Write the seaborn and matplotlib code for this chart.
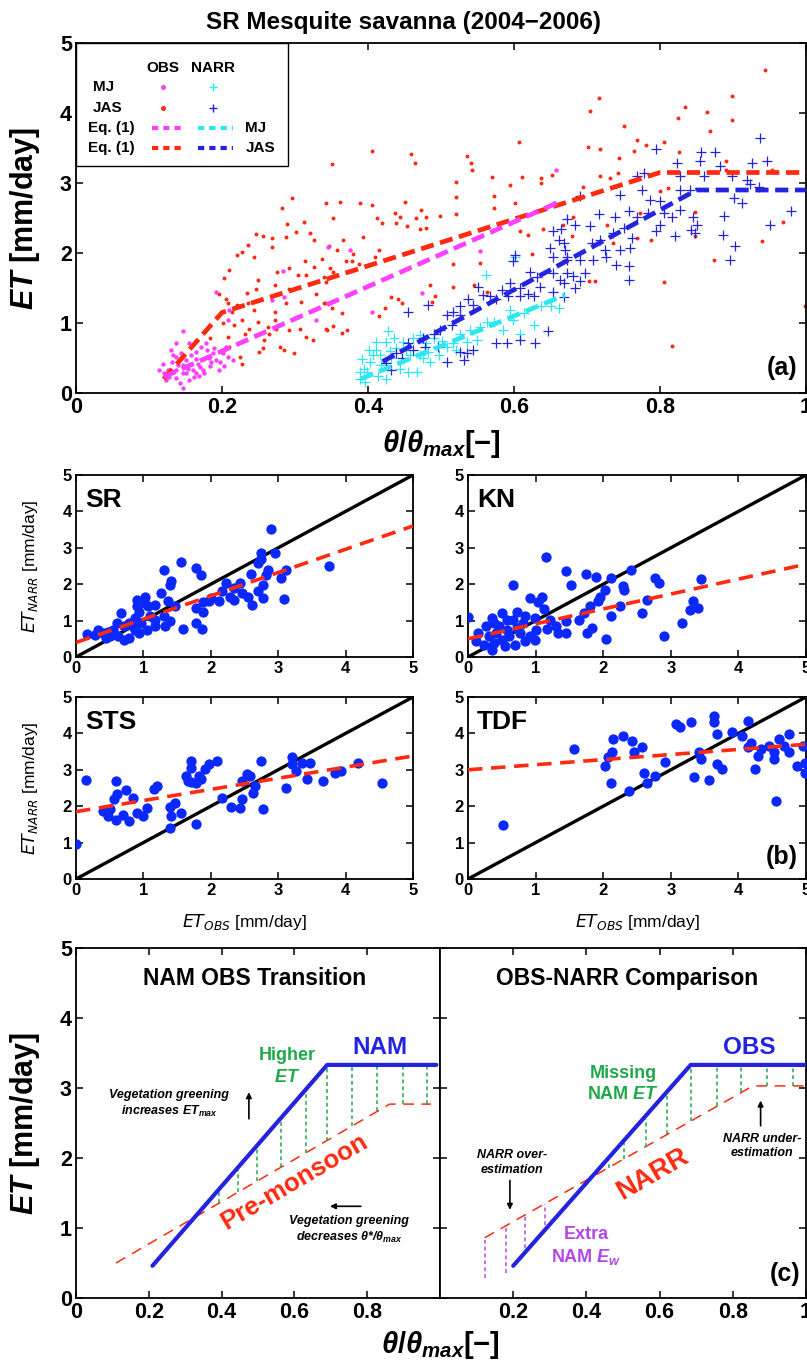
import matplotlib
matplotlib.use("Agg")
import matplotlib.pyplot as plt
import seaborn as sns
from matplotlib.patches import Rectangle

# ---------------- panel (a): SR mesquite savanna ----------------
obs_mj_x = [0.146, 0.130, 0.137, 0.119, 0.121, 0.128, 0.137, 0.146, 0.151, 0.158, 0.164, 0.151,
            0.160, 0.167, 0.174, 0.180, 0.187, 0.192, 0.201, 0.208, 0.155, 0.142, 0.137, 0.162,
            0.174, 0.183, 0.196, 0.203, 0.215, 0.126, 0.114, 0.132, 0.144, 0.153, 0.164, 0.176,
            0.185, 0.171, 0.178, 0.189, 0.146, 0.158, 0.123, 0.164, 0.205, 0.155, 0.137, 0.146,
            0.208, 0.210, 0.192, 0.285, 0.269, 0.329, 0.283, 0.657, 0.655, 0.376, 0.345, 0.405,
            0.474, 0.554, 0.170, 0.182, 0.140, 0.133, 0.168, 0.197]
obs_mj_y = [0.89, 0.61, 0.52, 0.42, 0.28, 0.23, 0.33, 0.40, 0.47, 0.54, 0.59, 0.28,
            0.33, 0.42, 0.49, 0.61, 0.57, 0.47, 0.57, 0.52, 0.19, 0.14, 0.21, 0.23,
            0.33, 0.38, 0.33, 0.38, 0.47, 0.33, 0.33, 0.45, 0.57, 0.35, 0.28, 0.28,
            0.45, 0.66, 0.71, 0.64, 0.28, 0.42, 0.19, 0.49, 0.66, 0.71, 0.71, 0.07,
            1.04, 1.19, 1.45, 1.37, 1.33, 1.04, 1.75, 3.18, 2.72, 2.04, 2.09, 1.16,
            1.43, 2.03, 0.37, 0.50, 0.40, 0.55, 0.24, 0.44]

obs_jas_x = [0.296, 0.282, 0.343, 0.289, 0.313, 0.301, 0.247, 0.256, 0.269, 0.320, 0.235, 0.269,
             0.221, 0.228, 0.244, 0.287, 0.326, 0.209, 0.276, 0.314, 0.292, 0.326, 0.203, 0.304,
             0.315, 0.249, 0.247, 0.272, 0.337, 0.196, 0.206, 0.234, 0.292, 0.329, 0.208, 0.214,
             0.221, 0.235, 0.244, 0.272, 0.287, 0.308, 0.340, 0.201, 0.217, 0.228, 0.237, 0.249,
             0.263, 0.273, 0.292, 0.307, 0.183, 0.208, 0.231, 0.247, 0.258, 0.274, 0.315, 0.324,
             0.210, 0.224, 0.228, 0.250, 0.256, 0.279, 0.285, 0.298, 0.265, 0.342,
             0.406, 0.350, 0.459, 0.464, 0.536, 0.541, 0.542, 0.607, 0.520, 0.570, 0.611, 0.637,
             0.637, 0.652, 0.594, 0.572, 0.521, 0.361, 0.389, 0.406, 0.451, 0.601, 0.572, 0.521,
             0.437, 0.444, 0.412, 0.419, 0.466, 0.480, 0.473, 0.498, 0.439, 0.454, 0.471, 0.479,
             0.352, 0.608, 0.619, 0.640, 0.366, 0.393, 0.346, 0.358, 0.380, 0.409, 0.415, 0.348,
             0.370, 0.378, 0.387, 0.352, 0.517, 0.553, 0.624, 0.343, 0.340, 0.485, 0.492, 0.517,
             0.545, 0.341, 0.364, 0.351, 0.432, 0.446, 0.441, 0.415, 0.423, 0.352, 0.344, 0.364,
             0.371, 0.487, 0.563,
             0.944, 0.717, 0.704, 0.898, 0.898, 0.834, 0.824, 0.865, 0.868, 0.751, 0.702, 0.718,
             0.769, 0.781, 0.805, 0.765, 0.744, 0.826, 0.718, 0.731, 0.743, 0.695, 0.891, 0.890,
             0.954, 0.688, 0.681, 0.679, 0.727, 0.735, 0.768, 0.667, 0.787, 0.848, 0.848, 0.836,
             0.968, 0.940, 0.874, 0.703, 0.711, 0.805, 0.816, 0.999, 0.773, 0.800, 0.811]
obs_jas_y = [2.78, 2.64, 2.71, 2.42, 2.45, 2.30, 2.27, 2.24, 2.22, 2.28, 2.11, 2.09,
             1.97, 2.02, 1.95, 2.23, 2.19, 1.76, 1.73, 1.89, 1.78, 1.80, 1.65, 1.68,
             1.68, 1.61, 1.49, 1.54, 1.92, 1.41, 1.35, 1.43, 1.49, 1.41, 1.28, 1.16,
             1.26, 1.28, 1.18, 1.16, 1.28, 1.30, 1.29, 1.00, 0.97, 1.05, 0.92, 1.02,
             0.95, 1.05, 0.90, 0.92, 0.78, 0.80, 0.85, 0.83, 0.76, 0.92, 0.80, 0.76,
             0.66, 0.52, 0.42, 0.59, 0.64, 0.66, 0.61, 0.57, 0.85, 0.92,
             3.46, 3.27, 3.41, 3.29, 3.38, 3.28, 3.18, 3.58, 3.01, 3.08, 3.09, 3.07,
             3.00, 3.12, 2.97, 2.81, 2.80, 2.73, 2.71, 2.69, 2.73, 2.72, 2.65, 2.56,
             2.57, 2.52, 2.50, 2.43, 2.50, 2.52, 2.61, 2.53, 2.43, 2.38, 2.34, 2.36,
             2.50, 2.32, 2.26, 2.34, 2.19, 2.23, 2.10, 2.05, 1.99, 1.94, 2.05, 1.78,
             1.88, 1.88, 1.84, 1.73, 1.85, 1.86, 1.99, 1.59, 1.66, 1.54, 1.39, 1.52,
             1.55, 1.29, 1.15, 1.21, 1.37, 1.29, 1.35, 1.10, 1.21, 0.96, 0.90, 0.86,
             0.90, 1.30, 1.45,
             4.62, 4.22, 4.03, 4.25, 3.90, 4.09, 3.93, 4.01, 3.75, 3.82, 3.51, 3.49,
             3.61, 3.55, 3.58, 3.46, 3.36, 3.44, 3.10, 3.07, 3.14, 2.95, 3.31, 3.19,
             3.19, 2.80, 2.51, 2.24, 2.40, 2.14, 2.21, 2.40, 2.19, 2.59, 2.24, 2.83,
             2.45, 2.17, 1.90, 1.60, 1.60, 1.58, 0.67, 1.24, 2.57, 2.88, 2.93]

narr_mj_x = [0.561, 0.601, 0.428, 0.398, 0.389, 0.394, 0.407, 0.411, 0.425, 0.435, 0.448, 0.462,
             0.471, 0.480, 0.491, 0.501, 0.508, 0.517, 0.526, 0.540, 0.416, 0.432, 0.444, 0.455,
             0.467, 0.471, 0.485, 0.403, 0.389, 0.396, 0.414, 0.425, 0.439, 0.411, 0.554, 0.563,
             0.572, 0.598, 0.595, 0.614, 0.637, 0.650, 0.661, 0.535, 0.549, 0.457, 0.482, 0.627,
             0.608, 0.402, 0.418, 0.392, 0.430, 0.452, 0.476, 0.497, 0.520, 0.585]
narr_mj_y = [1.68, 1.95, 0.88, 0.30, 0.20, 0.35, 0.54, 0.73, 0.73, 0.78, 0.73, 0.78,
             0.83, 0.71, 0.78, 0.75, 0.66, 0.71, 0.85, 0.90, 0.54, 0.50, 0.35, 0.30,
             0.30, 0.54, 0.45, 0.45, 0.30, 0.16, 0.25, 0.20, 0.64, 0.61, 0.95, 1.02,
             1.02, 1.05, 1.19, 1.14, 1.24, 1.24, 1.21, 0.73, 0.76, 0.54, 0.59, 0.97,
             0.85, 0.62, 0.40, 0.48, 0.60, 0.62, 0.50, 0.55, 0.62, 0.90]

narr_jas_x = [0.654, 0.662, 0.665, 0.649, 0.670, 0.654, 0.672, 0.601, 0.599, 0.622, 0.631, 0.654,
              0.663, 0.594, 0.583, 0.608, 0.619, 0.635, 0.654, 0.668, 0.551, 0.558, 0.567, 0.576,
              0.592, 0.537, 0.544, 0.526, 0.517, 0.508, 0.526, 0.482, 0.455, 0.515, 0.499, 0.490,
              0.476, 0.576, 0.590, 0.608, 0.629, 0.647, 0.455, 0.462, 0.478, 0.496, 0.508, 0.526,
              0.535, 0.544, 0.439, 0.425, 0.432, 0.446, 0.531, 0.608, 0.627,
              0.937, 0.875, 0.856, 0.795, 0.823, 0.855, 0.882, 0.926, 0.946, 0.778, 0.769, 0.827,
              0.860, 0.898, 0.919, 0.923, 0.935, 0.745, 0.775, 0.786, 0.800, 0.827, 0.841, 0.901,
              0.912, 0.980, 0.951, 0.887, 0.690, 0.717, 0.738, 0.757, 0.768, 0.784, 0.805, 0.816,
              0.827, 0.845, 0.850, 0.843, 0.848, 0.795, 0.821, 0.800, 0.886, 0.903, 0.896, 0.672,
              0.684, 0.704, 0.718, 0.736, 0.750, 0.761, 0.668, 0.707, 0.724, 0.745, 0.759, 0.672,
              0.690, 0.708, 0.726, 0.740, 0.757, 0.672, 0.681, 0.690, 0.668, 0.684, 0.757, 0.697]
narr_jas_y = [2.31, 2.19, 2.35, 2.07, 2.04, 1.95, 1.90, 1.97, 1.88, 1.73, 1.66, 1.71,
              1.61, 1.57, 1.47, 1.50, 1.42, 1.52, 1.45, 1.37, 1.52, 1.40, 1.38, 1.35,
              1.38, 1.34, 1.26, 1.24, 1.16, 1.11, 1.11, 1.26, 1.16, 0.97, 0.90, 0.85,
              0.78, 0.71, 0.71, 0.76, 0.71, 0.89, 0.71, 0.61, 0.66, 0.66, 0.45, 0.59,
              0.57, 0.61, 0.57, 0.43, 0.33, 0.50, 0.47, 1.38, 1.38,
              3.65, 3.45, 3.44, 3.49, 3.29, 3.31, 3.24, 3.28, 3.31, 3.14, 3.10, 3.10,
              3.10, 3.10, 3.05, 2.98, 2.95, 2.83, 2.90, 2.76, 2.74, 2.90, 2.90, 2.79,
              2.71, 2.60, 2.40, 2.53, 2.81, 2.56, 2.52, 2.60, 2.52, 2.57, 2.57, 2.52,
              2.62, 2.52, 2.40, 2.33, 2.29, 2.31, 2.24, 2.40, 2.26, 2.10, 1.90, 2.48,
              2.40, 2.38, 2.19, 2.29, 2.36, 2.21, 2.14, 2.14, 2.05, 2.05, 2.07, 1.95,
              1.90, 1.90, 1.95, 1.83, 1.82, 1.71, 1.67, 1.60, 1.57, 1.50, 1.61, 1.71]

# Eq. (1) fits
fit_obs_mj_x = [0.12, 0.66]
fit_obs_mj_y = [0.23, 2.72]
fit_obs_jas_x = [0.12, 0.20, 0.80, 1.00]
fit_obs_jas_y = [0.20, 1.15, 3.15, 3.15]
fit_narr_mj_x = [0.39, 0.67]
fit_narr_mj_y = [0.20, 1.40]
fit_narr_jas_x = [0.42, 0.85, 1.00]
fit_narr_jas_y = [0.45, 2.90, 2.90]

# ---------------- panel (b): NARR vs OBS ----------------
sr_obs = [2.89, 2.95, 2.74, 2.74, 3.76, 3.08, 3.04, 3.12, 1.56, 1.78, 1.86, 1.30, 1.40, 1.41, 1.26,
          1.36, 1.40, 1.59, 1.78, 1.87, 1.78, 1.88, 2.01, 2.12, 2.23, 2.35, 2.43, 2.47, 2.55, 2.61,
          2.70, 2.78, 2.78, 2.82, 2.85, 2.70, 2.60, 2.16, 2.28, 2.35, 1.97, 1.88, 1.01, 0.97, 0.90,
          1.07, 1.17, 1.10, 0.94, 0.87, 0.78, 0.71, 0.67, 0.61, 0.55, 0.48, 0.40, 0.28, 0.17, 0.32,
          0.63, 0.78, 0.94, 1.05, 1.17, 0.87, 0.71, 0.51, 0.44, 0.84, 0.97, 1.17, 1.30, 1.32, 1.47,
          0.90, 1.03]
sr_narr = [3.51, 2.87, 2.85, 2.69, 2.49, 1.59, 2.17, 2.38, 2.60, 2.44, 2.26, 2.38, 1.98, 2.10, 1.76,
           1.53, 0.98, 0.77, 0.93, 0.77, 1.34, 1.50, 1.62, 1.53, 2.03, 1.89, 2.03, 1.76, 1.66, 1.44,
           1.80, 1.62, 1.98, 2.26, 2.40, 2.58, 2.29, 1.80, 1.66, 1.57, 1.53, 1.25, 1.57, 1.48, 1.39,
           1.39, 1.44, 1.12, 1.25, 1.07, 0.93, 0.84, 1.21, 0.93, 0.75, 0.70, 0.66, 0.61, 0.64, 0.75,
           0.57, 0.52, 0.66, 0.75, 0.84, 0.75, 0.48, 0.57, 0.52, 0.84, 0.93, 1.02, 1.12, 0.84, 1.39,
           1.57, 1.66]

kn_obs = [0.00, 1.15, 0.67, 1.45, 1.53, 1.74, 1.90, 2.41, 2.12, 2.29, 2.31, 2.76, 2.82, 2.65, 2.58,
          2.90, 3.17, 3.29, 3.33, 3.40, 3.44, 2.03, 1.95, 1.92, 1.80, 1.72, 1.76, 1.84, 2.04, 2.12,
          2.25, 1.64, 1.45, 1.45, 1.33, 1.21, 1.13, 1.04, 1.09, 0.92, 1.17, 1.30, 0.99, 0.84, 0.73,
          0.66, 0.50, 0.38, 0.27, 0.15, 0.12, 0.23, 0.38, 0.50, 0.61, 0.77, 0.92, 0.99, 0.84, 0.69,
          0.54, 0.35, 0.73, 0.58, 0.42, 0.31, 1.01, 0.81, 0.58, 0.35, 0.46]
kn_narr = [1.10, 2.76, 1.97, 2.37, 1.97, 2.29, 2.21, 2.40, 2.17, 1.96, 1.85, 2.17, 2.03, 1.57, 1.22,
           0.59, 0.93, 1.30, 1.53, 1.34, 2.14, 1.83, 1.66, 1.53, 1.39, 1.21, 0.66, 0.80, 0.49, 1.12,
           1.39, 1.02, 0.98, 0.66, 0.66, 1.02, 1.32, 1.50, 1.66, 1.62, 0.77, 0.84, 1.07, 1.12, 1.25,
           1.02, 1.22, 0.93, 0.84, 0.66, 0.43, 0.34, 0.38, 0.48, 0.57, 0.66, 0.57, 0.48, 0.43, 0.34,
           0.29, 0.20, 0.80, 0.75, 0.66, 0.57, 0.75, 0.93, 1.02, 1.07, 0.84]

sts_obs = [0.15, 0.59, 0.57, 0.61, 0.74, 0.84, 0.51, 0.40, 0.48, 0.59, 0.69, 0.78, 0.90, 0.99, 1.05,
           1.15, 1.20, 1.40, 1.47, 1.41, 1.56, 1.40, 1.78, 1.70, 1.71, 1.63, 1.66, 1.78, 1.86, 1.82,
           1.71, 1.97, 2.09, 1.92, 2.16, 2.30, 2.43, 2.47, 2.53, 2.47, 2.58, 2.66, 2.74, 2.78, 2.62,
           3.12, 3.20, 3.21, 3.27, 3.35, 3.47, 3.43, 3.66, 3.85, 3.93, 4.19, 4.54, 0.00]
sts_narr = [2.72, 2.68, 2.19, 2.33, 2.45, 2.23, 1.93, 1.86, 1.73, 1.63, 1.77, 1.59, 1.82, 1.73, 1.96,
            2.46, 2.56, 1.98, 2.09, 1.73, 1.82, 1.40, 1.52, 3.25, 3.06, 2.83, 2.69, 2.65, 2.74, 2.83,
            2.67, 3.16, 3.25, 3.02, 2.23, 1.98, 1.96, 2.19, 2.88, 2.69, 2.83, 2.56, 3.25, 1.91, 2.37,
            2.51, 3.16, 3.34, 2.97, 3.20, 3.20, 2.74, 2.69, 2.92, 2.97, 3.20, 2.65, 0.96]

tdf_obs = [0.52, 1.57, 2.02, 2.07, 2.13, 2.15, 2.11, 2.30, 2.42, 2.38, 2.45, 2.57, 2.61, 2.65, 2.76,
           2.91, 3.07, 3.14, 3.30, 3.34, 3.45, 3.41, 3.57, 3.64, 3.64, 3.68, 3.68, 3.76, 3.90, 4.06,
           4.14, 4.18, 4.25, 4.29, 4.33, 4.45, 4.52, 4.56, 4.60, 4.68, 4.75, 4.75, 4.87, 4.95, 4.98,
           4.98, 4.52, 4.14]
tdf_narr = [1.47, 3.57, 3.11, 3.34, 3.48, 3.85, 2.65, 3.92, 3.80, 2.42, 3.48, 3.62, 2.92, 2.65, 2.83,
            3.22, 4.26, 4.17, 4.31, 2.79, 3.29, 3.48, 2.72, 4.49, 4.31, 3.99, 3.15, 3.02, 4.04, 3.94,
            4.35, 3.75, 3.02, 3.39, 3.57, 3.66, 3.29, 2.14, 3.84, 3.66, 3.99, 3.48, 3.11, 3.66, 3.20,
            2.92, 3.48, 3.62]

one_to_one = [0, 5]
# dashed regression lines: values at ET_OBS = 0 and 5
reg_x = [0, 5]
sr_reg = [0.40, 3.60]
kn_reg = [0.50, 2.55]
sts_reg = [1.85, 3.38]
tdf_reg = [3.00, 3.70]

# ---------------- panel (c): conceptual sketch ----------------
nam_x = [0.21, 0.69, 0.99]
nam_y = [0.46, 3.33, 3.33]
pre_x = [0.11, 0.862, 0.975]
pre_y = [0.50, 2.77, 2.77]
green_l_x = [0.394, 0.445, 0.496, 0.563, 0.631, 0.690, 0.758, 0.827, 0.897, 0.963]
green_l_lo = [1.36, 1.51, 1.67, 1.87, 2.07, 2.25, 2.46, 2.67, 2.77, 2.77]
green_l_hi = [1.52, 1.83, 2.14, 2.55, 2.97, 3.33, 3.33, 3.33, 3.33, 3.33]

obs_x = [0.20, 0.685, 1.0]
obs_y = [0.46, 3.33, 3.33]
narr_x = [0.122, 0.855, 1.0]
narr_y = [0.86, 3.03, 3.03]
green_r_x = [0.461, 0.504, 0.562, 0.621, 0.685, 0.756, 0.823, 0.894, 0.965]
green_r_lo = [1.86, 1.99, 2.16, 2.34, 2.53, 2.74, 2.94, 3.03, 3.03]
green_r_hi = [1.96, 2.22, 2.56, 2.92, 3.33, 3.33, 3.33, 3.33, 3.33]
purple_x = [0.122, 0.179, 0.231, 0.288]
purple_lo = [0.28, 0.36, 0.62, 0.95]
purple_hi = [0.86, 1.03, 1.18, 1.35]

RED = "#ff2a10"
MAGENTA = "#ff40ff"
CYAN = "#2ee6f0"
BLUE = "#2323e0"
DOT_BLUE = "#0a28ff"
GREEN = "#1fa84a"
PURPLE = "#b347e6"
B = {"fontweight": "bold"}

sns.set_theme(style="ticks")
plt.rcParams["font.family"] = ["Liberation Sans", "DejaVu Sans"]
plt.rcParams["mathtext.fontset"] = "custom"
plt.rcParams["mathtext.rm"] = "Liberation Sans:bold"
plt.rcParams["mathtext.it"] = "Liberation Sans:italic:bold"
plt.rcParams["mathtext.bf"] = "Liberation Sans:bold"
plt.rcParams["axes.linewidth"] = 1.3
plt.rcParams["axes.edgecolor"] = "black"
plt.rcParams["text.color"] = "black"
plt.rcParams["axes.labelcolor"] = "black"

W, H = 807, 1361
fig = plt.figure(figsize=(W / 100, H / 100), dpi=100)


def add_ax(x0, y0, x1, y1):
    return fig.add_axes([x0 / W, 1 - y1 / H, (x1 - x0) / W, (y1 - y0) / H])


def style(ax, size):
    ax.tick_params(direction="in", top=True, right=True, length=5, width=1.1,
                   labelsize=size, colors="black", pad=3)
    for lab in ax.get_xticklabels() + ax.get_yticklabels():
        lab.set_fontweight("bold")


# ---- (a)
ax = add_ax(76, 43, 806, 393)
sns.scatterplot(x=obs_jas_x, y=obs_jas_y, ax=ax, color=RED, s=8, linewidth=0, legend=False, zorder=2)
sns.scatterplot(x=obs_mj_x, y=obs_mj_y, ax=ax, color=MAGENTA, s=10, linewidth=0, legend=False, zorder=2)
sns.scatterplot(x=narr_mj_x, y=narr_mj_y, ax=ax, color=CYAN, marker="+", s=55, linewidth=0.9,
                legend=False, zorder=3)
sns.scatterplot(x=narr_jas_x, y=narr_jas_y, ax=ax, color=BLUE, marker="+", s=55, linewidth=0.9,
                legend=False, zorder=3)
dash = (0, (2.8, 1.4))
for fx, fy, col in [(fit_obs_jas_x, fit_obs_jas_y, RED), (fit_obs_mj_x, fit_obs_mj_y, MAGENTA),
                    (fit_narr_mj_x, fit_narr_mj_y, CYAN), (fit_narr_jas_x, fit_narr_jas_y, BLUE)]:
    sns.lineplot(x=fx, y=fy, ax=ax, sort=False, estimator=None, color=col, lw=3.4,
                 linestyle=dash, zorder=4)
ax.set_xlim(0, 1)
ax.set_ylim(0, 5)
ax.set_xticks([0, 0.2, 0.4, 0.6, 0.8, 1.0], ["0", "0.2", "0.4", "0.6", "0.8", "1"])
ax.set_yticks(range(6))
style(ax, 15.5)
ax.set_xlabel(r"$\theta/\theta_{max}$[−]", fontsize=21, **B)
ax.xaxis.set_label_coords(0.5, -0.10)
ax.set_ylabel(r"$ET$ [mm/day]", fontsize=22, **B)
ax.yaxis.set_label_coords(-0.047, 0.5)
ax.text(0.988, 0.071, "(a)", transform=ax.transAxes, ha="right", va="center", fontsize=18, **B)

# legend block drawn as a small table
tr = ax.transAxes
ax.add_patch(Rectangle((0, 0.649), 0.29, 0.351, transform=tr, facecolor="white",
                       edgecolor="black", lw=1.0, zorder=5))
col_obs, col_narr = 0.119, 0.188
rows = [0.874, 0.814, 0.757, 0.700]
ax.text(col_obs, 0.929, "OBS", transform=tr, ha="center", va="center", fontsize=11, zorder=6, **B)
ax.text(col_narr, 0.929, "NARR", transform=tr, ha="center", va="center", fontsize=11, zorder=6, **B)
for r, lab, lx in zip(rows, ["MJ", "JAS", "Eq. (1)", "Eq. (1)"], [0.023, 0.023, 0.016, 0.016]):
    ax.text(lx, r, lab, transform=tr, ha="left", va="center", fontsize=11, zorder=6, **B)
ax.plot([col_obs], [rows[0]], "o", ms=2.6, color=MAGENTA, transform=tr, zorder=6)
ax.plot([col_obs], [rows[1]], "o", ms=2.6, color=RED, transform=tr, zorder=6)
ax.plot([col_narr], [rows[0]], "+", ms=6, mew=1, color=CYAN, transform=tr, zorder=6)
ax.plot([col_narr], [rows[1]], "+", ms=6, mew=1, color=BLUE, transform=tr, zorder=6)
for r, c1, c2, lab in [(rows[2], MAGENTA, CYAN, "MJ"), (rows[3], RED, BLUE, "JAS")]:
    ax.plot([0.104, 0.149], [r, r], color=c1, lw=3, linestyle=(0, (1.5, 1.2)), transform=tr, zorder=6)
    ax.plot([0.167, 0.215], [r, r], color=c2, lw=3, linestyle=(0, (1.5, 1.2)), transform=tr, zorder=6)
    ax.text(0.232, r, lab, transform=tr, ha="left", va="center", fontsize=11, zorder=6, **B)

fig.text(0.5, 1 - 23 / H, "SR Mesquite savanna (2004−2006)", ha="center", va="center",
         fontsize=17.5, **B)

# ---- (b)
panels = [
    ((76, 475, 413, 657), "SR", sr_obs, sr_narr, sr_reg),
    ((468, 475, 806, 657), "KN", kn_obs, kn_narr, kn_reg),
    ((76, 697, 413, 879), "STS", sts_obs, sts_narr, sts_reg),
    ((468, 697, 806, 879), "TDF", tdf_obs, tdf_narr, tdf_reg),
]
for i, (box, name, xo, yn, reg) in enumerate(panels):
    axb = add_ax(*box)
    sns.lineplot(x=one_to_one, y=one_to_one, ax=axb, color="black", lw=2.4, zorder=2)
    sns.scatterplot(x=xo, y=yn, ax=axb, color=DOT_BLUE, s=55, linewidth=0, legend=False, zorder=3)
    sns.lineplot(x=reg_x, y=reg, ax=axb, color=RED, lw=2.6, linestyle=(0, (4, 2.4)), zorder=4)
    axb.set_xlim(0, 5)
    axb.set_ylim(0, 5)
    axb.set_xticks(range(6))
    axb.set_yticks(range(6))
    style(axb, 12)
    axb.text(0.027, 0.86, name, transform=axb.transAxes, ha="left", va="center",
             fontsize=19, **B)
    if i % 2 == 0:
        axb.set_ylabel(r"$ET_{NARR}$ [mm/day]", fontsize=12.5, fontweight="normal",
                       math_fontfamily="dejavusans")
        axb.yaxis.set_label_coords(-0.107, 0.5)
    else:
        axb.set_ylabel("")
    if i >= 2:
        axb.set_xlabel(r"$ET_{OBS}$ [mm/day]", fontsize=12.5, fontweight="normal",
                       math_fontfamily="dejavusans")
        axb.xaxis.set_label_coords(0.5, -0.18)
    else:
        axb.set_xlabel("")
    if name == "TDF":
        axb.text(0.976, 0.12, "(b)", transform=axb.transAxes, ha="right", va="center",
                 fontsize=18, **B)

# ---- (c)
axl = add_ax(76, 948, 440, 1298)
axr = add_ax(440, 948, 806, 1298)
for a in (axl, axr):
    a.set_xlim(0, 1)
    a.set_ylim(0, 5)
    a.set_yticks(range(6))

sns.lineplot(x=pre_x, y=pre_y, ax=axl, sort=False, estimator=None, color=RED, lw=1.1,
             linestyle=(0, (7, 5)), zorder=2)
axl.vlines(green_l_x, green_l_lo, green_l_hi, colors=GREEN, lw=1.1, linestyles=(0, (2.5, 2)), zorder=2)
sns.lineplot(x=nam_x, y=nam_y, ax=axl, sort=False, estimator=None, color=BLUE, lw=3, zorder=3)
axl.set_xticks([0, 0.2, 0.4, 0.6, 0.8], ["0", "0.2", "0.4", "0.6", "0.8"])
style(axl, 15.5)
axl.set_ylabel(r"$ET$ [mm/day]", fontsize=22, **B)
axl.yaxis.set_label_coords(-0.093, 0.5)
axl.set_xlabel("")

sns.lineplot(x=narr_x, y=narr_y, ax=axr, sort=False, estimator=None, color=RED, lw=1.1,
             linestyle=(0, (7, 5)), zorder=2)
axr.vlines(green_r_x, green_r_lo, green_r_hi, colors=GREEN, lw=1.1, linestyles=(0, (2.5, 2)), zorder=2)
axr.vlines(purple_x, purple_lo, purple_hi, colors=PURPLE, lw=1.1, linestyles=(0, (2.5, 2)), zorder=2)
sns.lineplot(x=obs_x, y=obs_y, ax=axr, sort=False, estimator=None, color=BLUE, lw=3, zorder=3)
axr.set_xticks([0.2, 0.4, 0.6, 0.8, 1.0], ["0.2", "0.4", "0.6", "0.8", "1"])
style(axr, 15.5)
axr.tick_params(labelleft=False)
axr.set_xlabel("")
axr.set_ylabel("")

fig.text(440 / W, 1 - 1345 / H, r"$\theta/\theta_{max}$[−]", ha="center", va="center",
         fontsize=21, **B)

# annotations, left
axl.text(0.49, 4.56, "NAM OBS Transition", ha="center", va="center", fontsize=16.5, **B)
axl.text(0.58, 3.46, "Higher", color=GREEN, ha="center", va="center", fontsize=13, **B)
axl.text(0.58, 3.15, r"$ET$", color=GREEN, ha="center", va="center", fontsize=13, **B)
axl.text(0.834, 3.58, "NAM", color=BLUE, ha="center", va="center", fontsize=17.5, **B)
axl.text(0.256, 2.77, "Vegetation greening\n" + r"increases $ET_{max}$", ha="center", va="center",
         fontsize=9, style="italic", linespacing=1.3, **B)
axl.annotate("", xy=(0.475, 2.98), xytext=(0.475, 2.52),
             arrowprops=dict(arrowstyle="-|>", color="black", lw=1.2, mutation_scale=8))
axl.text(0.60, 1.66, "Pre-monsoon", color=RED, ha="center", va="center", fontsize=18.5,
         rotation=30.5, rotation_mode="anchor", **B)
axl.annotate("", xy=(0.69, 1.31), xytext=(0.79, 1.31),
             arrowprops=dict(arrowstyle="-|>", color="black", lw=1.2, mutation_scale=8))
axl.text(0.75, 0.97, "Vegetation greening\n" + r"decreases $\theta$*/$\theta_{max}$", ha="center",
         va="center", fontsize=9, style="italic", linespacing=1.3, **B)

# annotations, right
axr.text(0.51, 4.56, "OBS-NARR Comparison", ha="center", va="center", fontsize=16.5, **B)
axr.text(0.845, 3.58, "OBS", color=BLUE, ha="center", va="center", fontsize=17.5, **B)
axr.text(0.50, 3.20, "Missing", color=GREEN, ha="center", va="center", fontsize=13, **B)
axr.text(0.50, 2.91, r"NAM $ET$", color=GREEN, ha="center", va="center", fontsize=13, **B)
axr.text(0.582, 1.77, "NARR", color=RED, ha="center", va="center", fontsize=19.5,
         rotation=30, rotation_mode="anchor", **B)
axr.text(0.196, 1.94, "NARR over-\nestimation", ha="center", va="center", fontsize=9,
         style="italic", linespacing=1.3, **B)
axr.annotate("", xy=(0.191, 1.22), xytext=(0.191, 1.72),
             arrowprops=dict(arrowstyle="-|>", color="black", lw=1.2, mutation_scale=8))
axr.text(0.879, 2.17, "NARR under-\nestimation", ha="center", va="center", fontsize=9,
         style="italic", linespacing=1.3, **B)
axr.annotate("", xy=(0.876, 2.86), xytext=(0.876, 2.42),
             arrowprops=dict(arrowstyle="-|>", color="black", lw=1.2, mutation_scale=8))
axr.text(0.40, 0.91, "Extra", color=PURPLE, ha="center", va="center", fontsize=13, **B)
axr.text(0.40, 0.59, r"NAM $E_w$", color=PURPLE, ha="center", va="center", fontsize=13, **B)
axr.text(0.984, 0.34, "(c)", ha="right", va="center", fontsize=18, **B)

fig.savefig("out.png", dpi=100)
